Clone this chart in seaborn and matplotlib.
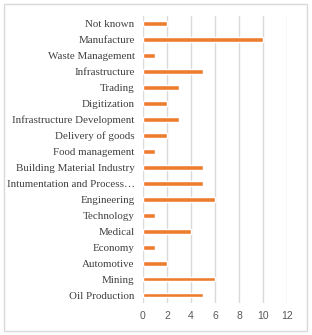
import matplotlib
matplotlib.use("Agg")
import matplotlib.pyplot as plt
import seaborn as sns
from matplotlib.patches import Rectangle

# sectors, top to bottom as shown in the chart
sectors = [
    "Not known", "Manufacture", "Waste Management", "Infrastructure",
    "Trading", "Digitization", "Infrastructure Development",
    "Delivery of goods", "Food management", "Building Material Industry",
    "Intumentation and Process\u2026", "Engineering", "Technology",
    "Medical", "Economy", "Automotive", "Mining", "Oil Production",
]
counts = [2, 10, 1, 5, 3, 2, 3, 2, 1, 5, 5, 6, 1, 4, 1, 2, 6, 5]
x_ticks = [0, 2, 4, 6, 8, 10, 12]

ORANGE = "#ED7D31"
GRID = "#D9D9D9"
TICK_GRAY = "#595959"

sns.set_theme(style="white")

fig = plt.figure(figsize=(3.12, 3.35), dpi=100)
ax = fig.add_axes([0.458, 0.0955, 0.462, 0.857])

sns.barplot(x=counts, y=sectors, orient="h", color=ORANGE,
            width=0.3, saturation=1, ax=ax)

ax.set_xlim(0, 12)
ax.set_xticks(x_ticks)
ax.set_xticklabels([str(t) for t in x_ticks], fontsize=7.5,
                   color=TICK_GRAY, family="Liberation Sans")
ax.set_yticks(range(len(sectors)))
ax.set_yticklabels(sectors, fontsize=7.9, color="#404040",
                   family="Liberation Serif")
ax.tick_params(axis="both", length=0)
ax.tick_params(axis="y", pad=6)
ax.tick_params(axis="x", pad=6)
ax.set_ylim(len(sectors) - 0.5, -0.5)

ax.grid(axis="x", color=GRID, linewidth=1)
ax.set_axisbelow(True)
for s in ax.spines.values():
    s.set_visible(False)
ax.set_xlabel("")
ax.set_ylabel("")

# chart border
fig.patches.append(Rectangle((4 / 312, 4 / 335), 303 / 312, 327 / 335,
                             transform=fig.transFigure, fill=False,
                             edgecolor=GRID, linewidth=1))

fig.savefig("out.png", dpi=100)
